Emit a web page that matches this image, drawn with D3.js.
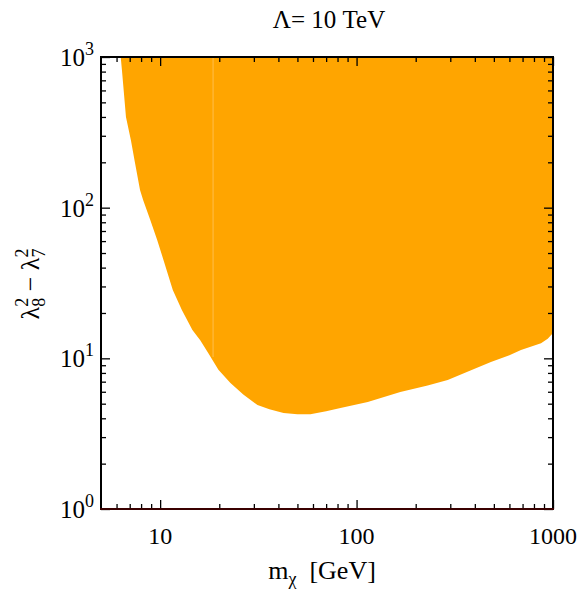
<!DOCTYPE html>
<html>
<head>
<meta charset="utf-8">
<script src="https://cdn.jsdelivr.net/npm/d3@7"></script>
<style>
  body { margin: 0; background: #fff; }
  svg text { font-family: "Liberation Serif", serif; }
</style>
</head>
<body>
<div id="graph"></div>
<script>
const svgw = 585
const svgh = 589

// lower edge of the allowed region: m_chi [GeV] vs lambda8^2 - lambda7^2
const massBoundary = [6.3, 6.4, 6.7, 7.1, 7.45, 7.9, 8.2, 8.9, 9.66, 10.4, 11.6, 12.9, 14.6, 16.0, 17.6, 19.8,
    22.8, 26.5, 31.3, 36, 42.5, 50, 58.2, 70, 82.8, 114, 167, 230, 291, 380, 483, 600, 687, 869, 940, 1000]
const lambdaBoundary = [1000, 800, 400, 280, 198, 131, 112, 83, 61, 45, 28.4, 20.9, 15.4, 13.2, 10.8, 8.4,
    6.85, 5.75, 4.9, 4.6, 4.34, 4.25, 4.25, 4.45, 4.68, 5.13, 5.97, 6.6, 7.18, 8.3, 9.45, 10.5, 11.35, 12.6, 13.5, 14.7]
const lambdaTop = 1000

// faint seam in the scan
const seamMass = 18.6
const seamLambda = [1000, 10.2]

const xMajor = [10, 100, 1000]
const xMinor = [6, 7, 8, 9, 20, 30, 40, 50, 60, 70, 80, 90, 200, 300, 400, 500, 600, 700, 800, 900]
const xLabels = ['10', '100', '1000']
const yMajor = [1, 10, 100, 1000]
const yMinor = [2, 3, 4, 5, 6, 7, 8, 9, 20, 30, 40, 50, 60, 70, 80, 90, 200, 300, 400, 500, 600, 700, 800, 900]
const yExponents = ['0', '1', '2', '3']

const pLeft = 101, pRight = 553, pTop = 57, pBottom = 509

const svg = d3.select('#graph')
    .append('svg')
    .attr('width', svgw)
    .attr('height', svgh)

const x = d3.scaleLog().domain([5, 1000]).range([pLeft, pRight])
const y = d3.scaleLog().domain([1, 1000]).range([pBottom, pTop])

const boundary = massBoundary.map((m, i) => ({ m: m, l: lambdaBoundary[i] }))

const area = d3.area()
    .x(d => x(d.m))
    .y0(d => y(d.l))
    .y1(d => y(lambdaTop))

svg.append('path')
    .datum(boundary)
    .attr('d', area)
    .attr('fill', '#ffa500')

svg.append('line')
    .attr('x1', x(seamMass)).attr('x2', x(seamMass))
    .attr('y1', y(seamLambda[0])).attr('y2', y(seamLambda[1]))
    .attr('stroke', '#ffbe4d')
    .attr('stroke-width', 1)

// ticks, pointing inward on all four sides
function ticks(axis, values, size, transform) {
    svg.append('g')
        .attr('transform', transform)
        .call(axis.tickValues(values).tickSize(size).tickFormat(''))
        .call(g => g.select('.domain').remove())
        .call(g => g.selectAll('line').attr('stroke', '#000').attr('stroke-width', 1.3))
}
ticks(d3.axisBottom(x), xMajor, -9, `translate(0,${pBottom})`)
ticks(d3.axisBottom(x), xMinor, -5, `translate(0,${pBottom})`)
ticks(d3.axisTop(x), xMajor, -9, `translate(0,${pTop})`)
ticks(d3.axisTop(x), xMinor, -5, `translate(0,${pTop})`)
ticks(d3.axisLeft(y), yMajor, -9, `translate(${pLeft},0)`)
ticks(d3.axisLeft(y), yMinor, -5, `translate(${pLeft},0)`)
ticks(d3.axisRight(y), yMajor, -9, `translate(${pRight},0)`)
ticks(d3.axisRight(y), yMinor, -5, `translate(${pRight},0)`)

// frame
svg.append('path')
    .attr('d', `M${pLeft},${pBottom}V${pTop}H${pRight}V${pBottom}`)
    .attr('fill', 'none').attr('stroke', '#000').attr('stroke-width', 2)
svg.append('line')
    .attr('x1', pLeft - 1).attr('x2', pRight + 1)
    .attr('y1', pBottom).attr('y2', pBottom)
    .attr('stroke', '#3a0000').attr('stroke-width', 2)

// tick labels
svg.selectAll('.xlab')
    .data(xMajor)
    .enter()
    .append('text')
    .attr('x', d => x(d))
    .attr('y', 544)
    .attr('text-anchor', 'middle')
    .attr('font-size', 24)
    .text((d, i) => xLabels[i])

const ylab = svg.selectAll('.ylab')
    .data(yMajor)
    .enter()
    .append('text')
    .attr('x', 94)
    .attr('y', d => y(d) + 9)
    .attr('text-anchor', 'end')
    .attr('font-size', 25)
ylab.append('tspan').text('10')
ylab.append('tspan').attr('dy', -11).attr('font-size', 18).text((d, i) => yExponents[i])

// title and axis titles
svg.append('text')
    .attr('x', 329).attr('y', 28)
    .attr('text-anchor', 'middle')
    .attr('font-size', 25)
    .text('Λ= 10 TeV')

const xt = svg.append('text')
    .attr('x', 322).attr('y', 579)
    .attr('text-anchor', 'middle')
    .attr('font-size', 26)
xt.append('tspan').text('m')
xt.append('tspan').attr('dy', 6).attr('font-size', 18).text('χ')
xt.append('tspan').attr('dy', -6).text('\u00a0\u00a0[GeV]')

const yt = svg.append('text')
    .attr('transform', 'translate(39,284) rotate(-90)')
    .attr('text-anchor', 'middle')
    .attr('font-size', 26)
yt.append('tspan').text('λ')
yt.append('tspan').attr('dy', 6).attr('font-size', 18).text('8')
yt.append('tspan').attr('dx', -9).attr('dy', -17).attr('font-size', 18).text('2')
yt.append('tspan').attr('dy', 11).text(' − λ')
yt.append('tspan').attr('dy', 6).attr('font-size', 18).text('7')
yt.append('tspan').attr('dx', -9).attr('dy', -17).attr('font-size', 18).text('2')
</script>
</body>
</html>
